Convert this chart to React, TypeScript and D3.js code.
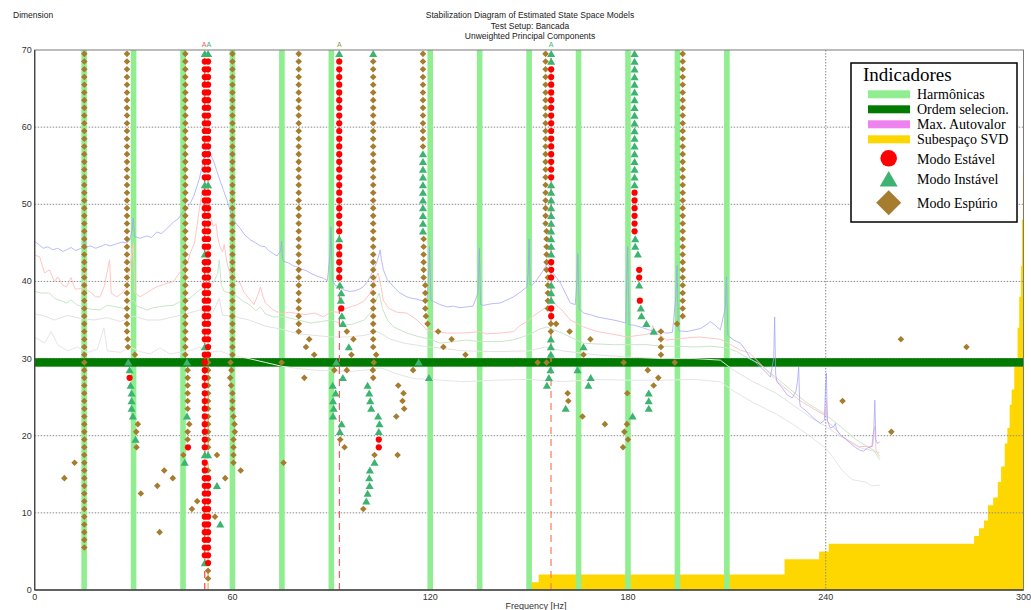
import React from "react";
import * as d3 from "d3";

// ---- axes ----
const FREQ_MAX = 300;
const DIM_MAX = 70;
const xTicks = [0, 60, 120, 180, 240, 300];
const yTicks = [0, 10, 20, 30, 40, 50, 60, 70];
const xGrid = [60, 120, 180, 240];
const yGrid = [10, 20, 30, 40, 50, 60];

// ---- indicators ----
const harmonics = [15, 30, 45, 60, 75, 90, 120, 135, 150, 165, 180, 195, 210];
const selectedOrder = 29.5;

// SVD subspace staircase: [frequency start, dimension]
const svdSteps: [number, number][] = [
  [150, 1], [152.9, 2], [227.5, 4], [238, 5], [240.9, 6], [285, 7], [286.5, 8],
  [288, 9], [289.2, 11], [290.8, 12], [292.2, 14], [293.2, 16], [294.3, 19],
  [295.1, 21], [295.8, 24], [296.4, 26], [297.2, 29], [298.2, 34], [298.7, 38],
  [299.2, 42], [299.5, 48], [299.8, 54], [300, 54],
];

// ---- principal component spectra: [Hz, level] ----
const spectrumBlue: [number, number][] = [
  [0, 45.2], [1.2, 44.8], [2.6, 44.3], [4, 44.5], [5.5, 44.1], [7, 44.3], [8.5, 43.9], [9.7, 44.1],
  [11, 44.4], [12.5, 44.0], [14, 44.3], [14.8, 44.5], [15.1, 46.5], [15.4, 44.4], [17, 44.6],
  [18.5, 44.3], [19.8, 44.5], [21.5, 44.8], [23, 44.6], [24.9, 44.9], [26.5, 45.1], [28, 45.0],
  [28.9, 45.4], [29.6, 46.8], [29.9, 48.2], [30.3, 45.8], [32, 45.6], [34, 45.9], [35.5, 45.7],
  [37, 46.4], [38.5, 46.2], [40, 46.8], [42.1, 47.7], [43.5, 48.1], [44.6, 48.8], [46, 49.4],
  [47.1, 50.1], [48.2, 51.0], [49.2, 52.3], [50, 53.4], [50.7, 54.7], [51.2, 55.8], [51.7, 56.6],
  [52.2, 57.5], [52.7, 57.2], [53.3, 56.5], [54.2, 55.7], [55.2, 54.4], [56.2, 53.1], [57.2, 51.9],
  [58.3, 50.6], [59.3, 49.2], [60.3, 48.0], [61.3, 47.4], [62.3, 46.9], [63.8, 46.0], [65.4, 45.4],
  [67, 45.0], [68.5, 44.6], [69.9, 44.5], [71, 44.0], [72.4, 43.6], [73.5, 43.3], [74.6, 44.0],
  [74.9, 45.2], [75.2, 43.0], [75.5, 42.6], [77, 42.4], [78.5, 42.0], [79.5, 41.9], [81, 41.6],
  [82.3, 41.4], [83.6, 41.1], [85, 40.8], [86.3, 40.6], [87.6, 40.4], [88.8, 40.1], [89.6, 43.5],
  [89.9, 47.1], [90.3, 40.2], [91.2, 39.5], [92.5, 39.3], [93.8, 38.9], [95.7, 38.7], [97.3, 38.8],
  [98.5, 39.0], [99.7, 39.3], [101, 40.0], [102, 40.8], [102.8, 41.5], [103.8, 42.5], [104.5, 43.5],
  [104.8, 44.1], [105.2, 42.8], [105.8, 41.5], [107, 40.2], [108.9, 39.3], [110.5, 38.6],
  [112.9, 38.0], [114.5, 37.8], [116, 37.7], [117.5, 37.5], [119, 37.6], [119.5, 40.5],
  [119.8, 44.5], [120.2, 37.6], [121, 37.4], [123, 37.0], [125.1, 36.7], [127, 36.8], [129, 36.6],
  [131.1, 36.7], [133, 36.8], [134.5, 38.5], [134.9, 44.3], [135.3, 37.0], [136.2, 36.9],
  [138.5, 37.1], [141.2, 37.2], [143.3, 37.6], [145.3, 38.0], [147.3, 38.6], [149.3, 39.3],
  [149.7, 41], [150.0, 45.5], [150.3, 39.6], [150.9, 39.5], [152.5, 40.3], [154.4, 41.5],
  [155.4, 42.3], [156.4, 41.8], [157.4, 41.0], [159.5, 39.8], [161, 38.5], [162.5, 37.2],
  [164, 37.0], [164.5, 40], [164.8, 43.6], [165.2, 36.5], [166.5, 35.9], [168.5, 35.7],
  [170.6, 35.4], [173, 35.2], [175.6, 35.0], [177.7, 34.8], [179.3, 34.6], [179.6, 40.0],
  [179.9, 44.5], [180.3, 34.4], [182, 34.3], [183.7, 34.1], [185.8, 33.8], [187.8, 33.5],
  [189.8, 33.4], [191.8, 33.3], [193.5, 33.4], [194.5, 38.0], [194.9, 42.1], [195.3, 33.6],
  [197.9, 33.5], [200, 33.7], [202, 33.9], [203.5, 34.3], [205, 34.8], [206.5, 34.3], [208, 33.7],
  [209.5, 36.5], [209.9, 40.6], [210.3, 33.0], [212.1, 32.4], [214.1, 32.0], [215.5, 31.2],
  [217.2, 30.0], [218.7, 29.5], [220.2, 28.9], [221.7, 28.3], [223.2, 27.6], [224.2, 30.0],
  [224.5, 35.4], [224.8, 28.0], [225.2, 27.0], [226.8, 26.2], [228.3, 25.3], [229.8, 24.9],
  [231.0, 25.8], [231.4, 27.0], [231.8, 28.9], [232.1, 24.3], [232.3, 23.8], [233.8, 23.3],
  [235.3, 22.7], [236.8, 22.1], [238.4, 21.6], [239.6, 22], [239.9, 26.0], [240.2, 28.1],
  [240.5, 22.0], [241.4, 21.0], [242.5, 21.2], [242.9, 21.6], [243.3, 20.8], [244.4, 20.1],
  [246, 19.6], [247.5, 19.0], [249, 18.5], [250.5, 18.1], [251.5, 18.0], [252.6, 18.4], [254, 18.6],
  [254.6, 21.0], [254.9, 24.6], [255.2, 19.5], [255.7, 19.0], [256.4, 19.2],
];

const spectrumRed: [number, number][] = [
  [0, 43.4], [1.5, 43.2], [3, 41.1], [4.5, 41.5], [6, 40.0], [7, 40.6], [8.5, 39.5], [9.7, 39.3],
  [11, 40.5], [12.3, 39.0], [14.8, 39.1], [15.1, 42.0], [15.5, 39.0], [17, 38.6], [18.5, 38.0],
  [19.8, 38.0], [21.2, 39.5], [22.7, 42.8], [23.2, 38.5], [24.9, 38.0], [26.5, 38.5], [28, 39.3],
  [29.9, 44.9], [30.4, 38.5], [32, 38.0], [33.5, 38.4], [35, 38.8], [37, 39.3], [39, 39.6],
  [42.1, 40.0], [44.6, 41.5], [46.5, 42.5], [47.1, 43.6], [48.5, 45.0], [49.2, 47.1], [50, 49.5],
  [50.7, 51.4], [51.3, 52.3], [52.0, 51.0], [52.6, 49.5], [53.2, 48.5], [54.2, 47.1], [55.0, 47.5],
  [55.5, 45.8], [56.2, 44.5], [57, 43.8], [57.5, 44.8], [58.3, 42.5], [59.2, 41.1], [60.3, 40.5],
  [61.5, 40.0], [62.3, 39.8], [63.5, 38.6], [65.4, 37.6], [66.5, 37.0], [67.5, 38.0], [68.5, 39.3],
  [69.3, 38.0], [70, 37.2], [72.4, 36.3], [75, 35.8], [77, 36.0], [79, 35.9], [82, 35.7],
  [85, 35.9], [87.6, 35.4], [89.9, 36.1], [92, 36.0], [95.7, 36.7], [98, 37.0], [100, 37.5],
  [101.5, 38.3], [102.8, 39.5], [103.5, 40.5], [104.2, 41.1], [105, 39.5], [105.8, 37.5],
  [107.5, 36.5], [109, 36.2], [110, 36.0], [112.9, 35.9], [116, 35.0], [119, 33.7], [121, 33.5],
  [123, 33.4], [125.1, 33.3], [129, 33.3], [133, 33.4], [135, 33.5], [137, 33.2], [141.2, 33.3],
  [145.3, 33.5], [147, 34.2], [150, 35.0], [151.5, 35.6], [154, 36.3], [156, 37.0], [157.4, 37.4],
  [158.5, 36.8], [160, 36.3], [162.5, 35.0], [166.5, 34.1], [170.6, 33.5], [175, 33.2],
  [179.7, 32.8], [183, 33.0], [185, 33.1], [187, 33.3], [187.5, 34.3], [188, 33.5], [191.8, 32.4],
  [196, 32.6], [201.5, 32.8], [206, 32.6], [208, 32.5], [212, 31.6], [214.1, 31.1], [217, 30.7],
  [222, 28.5], [227, 26.4], [232, 24.6], [237, 23.3], [240, 22.6], [240.2, 24.6], [240.5, 21.8],
  [242, 21.3], [245, 19.9], [250, 18.6], [254.2, 18.6], [254.9, 21.2], [255.3, 18.0], [256.4, 17.3],
];

const spectrumGreen: [number, number][] = [
  [0, 38.7], [2, 38.5], [4.5, 38.5], [6, 37.8], [8, 37.5], [9.7, 37.2], [11, 37.6], [13, 36.9],
  [14.8, 36.7], [17, 36.4], [19.8, 36.3], [22, 36.9], [24.9, 36.7], [27, 36.5], [29.9, 37.6],
  [31, 36.8], [34, 36.3], [36, 36.6], [39, 36.8], [42, 36.9], [45, 37.6], [47, 37.8], [49.5, 38.7],
  [52, 39.5], [54, 39.7], [55.5, 41.0], [56, 42.8], [56.6, 39.5], [57.5, 38.7], [59, 38.5],
  [61, 38.2], [63, 37.5], [65.4, 36.9], [67, 36.2], [68.5, 36.7], [70, 35.8], [72.4, 35.4],
  [76, 35.4], [80, 35.0], [83.6, 34.6], [87, 34.8], [90, 35.0], [93, 34.5], [96, 34.4], [100, 35.0],
  [102, 36.0], [103.5, 37.5], [104.5, 38.5], [105.5, 36.5], [107, 35.0], [108.9, 34.1],
  [112.9, 33.3], [116, 32.9], [120, 32.5], [123, 32.0], [127, 32.2], [131, 32.4], [135, 32.2],
  [141.2, 32.2], [145, 32.4], [148, 32.8], [150.9, 33.3], [153, 33.8], [155.4, 34.1], [157, 33.8],
  [160, 33.3], [163, 32.7], [166.5, 32.0], [170, 31.9], [175.6, 31.8], [180, 31.8], [185.8, 31.8],
  [190, 31.6], [195, 31.6], [200, 31.5], [205, 31.6], [210, 31.4], [213, 30.9], [215, 30.4],
  [219.5, 29.4], [224.5, 27.7], [229.5, 25.9], [234.5, 24.2], [239.5, 22.9], [240, 23.6],
  [240.3, 22.6], [244.5, 21.2], [249.5, 19.4], [254.6, 18.1], [256.4, 16.9],
];

const spectrumGray1: [number, number][] = [
  [0, 35.8], [3, 35.5], [6, 35.0], [10, 35.6], [14, 35.2], [18, 35.0], [22, 35.3], [26, 34.8],
  [30, 35.5], [34, 35.0], [38, 35.0], [42, 35.4], [46, 35.8], [50, 36.3], [54, 36.0], [56, 37.8],
  [57, 35.6], [60, 35.5], [65, 35.0], [70, 34.2], [75, 33.8], [80, 33.2], [85, 33.0], [90, 32.8],
  [95, 32.8], [100, 33.0], [104, 33.5], [108, 32.5], [112, 32.0], [118, 31.6], [124, 31.3],
  [130, 31.0], [140, 30.9], [150, 31.0], [155, 31.5], [160, 31.0], [170, 30.5], [180, 30.2],
  [190, 30.0], [200, 30.0], [208, 29.8], [212, 28.5], [218, 27.0], [225, 25.5], [230, 24.0],
  [235, 22.5], [240, 21.2], [245, 19.8], [250, 18.5], [256.4, 17.8],
];

const spectrumGray2: [number, number][] = [
  [0, 32.8], [3, 32.0], [5, 33.5], [7, 31.8], [10, 31.0], [13, 31.5], [16, 30.8], [19, 31.2],
  [21, 34.0], [22, 31.0], [26, 30.8], [29, 31.5], [32, 30.9], [35, 30.6], [38, 31.4], [41, 30.6],
  [44, 30.8], [47, 31.0], [50, 31.5], [53, 30.8], [56, 31.0], [60, 30.4], [65, 30.0], [70, 29.5],
  [75, 29.0], [80, 28.7], [85, 28.5], [90, 28.4], [95, 28.3], [100, 28.5], [105, 28.8], [110, 28.0],
  [115, 27.4], [120, 27.3], [130, 27.0], [140, 27.2], [150, 27.3], [160, 27.0], [170, 27.3],
  [180, 27.2], [190, 27.2], [200, 27.3], [208, 27.0], [212, 25.8], [218, 24.3], [225, 22.8],
  [230, 21.5], [235, 20.0], [240, 18.4], [242, 17.3], [245, 15.5], [248, 14.3], [252, 14.0],
  [254, 13.5], [256.4, 13.6],
];

// ---- estimated modes ----
// runs: one mode per model order at frequency f, from dimension a to b
const stableRuns: [number, number, number][] = [
  [51.6, 53.5, 68.5], [51.6, 44.5, 51.5], [51.6, 32.5, 42.5], [51.6, 18.5, 30.5], [51.6, 4.5, 16.5],
  [52.6, 53.5, 68.5], [52.6, 30.5, 51.5], [52.6, 3.5, 14.5],
  [92.4, 46.5, 68.5], [92.4, 40.5, 44.5],
  [156.7, 53.5, 67.5], [156.7, 40.5, 42.5],
  [182.0, 46.5, 51.5],
];
const stablePoints: [number, number][] = [
  [28.8, 27.5], [46.5, 18.5], [93.0, 36.5], [104.4, 19.5], [104.4, 18.5],
  [183.4, 41.5], [183.4, 40.5], [183.6, 37.5], [156.7, 36.5], [156.7, 35.5],
];

const unstableRuns: [number, number, number][] = [
  [182.0, 52.5, 69.5], [117.8, 46.5, 56.5], [156.7, 43.5, 52.5], [156.7, 68.5, 69.5],
];
const unstablePoints: [number, number][] = [
  [51.6, 69.5], [52.6, 69.5], [51.6, 52.5], [52.6, 52.5], [51.6, 43.5], [51.6, 31.5],
  [51.6, 17.5], [52.6, 17.5], [51.6, 3.5], [55.3, 13.5], [56.3, 8.5],
  [28.4, 29.5], [28.8, 28.5], [29.1, 26.5], [29.4, 25.5], [29.4, 24.5], [29.4, 23.5],
  [29.8, 22.5], [30.6, 19.5],
  [46.2, 29.5], [46.2, 22.5], [45.5, 16.5],
  [92.4, 69.5], [92.4, 45.5], [92.6, 39.5], [93.0, 38.5], [92.9, 37.5], [93.2, 35.5],
  [93.5, 34.5], [95.3, 31.5], [91.5, 29.5], [93.5, 27.5], [90.4, 26.5], [91.3, 25.5],
  [90.5, 24.5], [90.7, 23.5], [90.5, 22.5], [93.1, 21.5], [92.6, 20.5],
  [102.7, 69.5], [101.0, 26.5], [101.5, 25.5], [101.8, 24.5], [102.1, 23.5], [104.2, 22.5],
  [104.6, 21.5], [104.4, 20.5], [103.1, 16.5], [101.7, 15.5], [101.5, 14.5], [101.6, 13.5],
  [101.0, 12.5], [100.6, 11.5],
  [116.5, 29.5], [119.6, 27.5],
  [156.6, 32.5], [156.6, 31.5], [156.6, 30.5], [156.5, 28.5], [156.0, 27.5], [155.4, 26.5],
  [156.7, 39.5], [156.7, 38.5], [156.7, 37.5],
  [166.5, 31.5], [164.7, 28.5], [168.7, 27.5], [168.0, 26.5], [161.1, 23.5],
  [182.2, 45.5], [182.2, 44.5], [183.0, 43.5], [183.4, 39.5], [183.9, 36.5], [184.1, 35.5],
  [185.6, 34.5], [187.8, 33.5], [186.3, 25.5], [186.3, 24.5], [186.3, 23.5], [181.4, 22.5],
];

const spuriousRuns: [number, number, number][] = [
  [15.05, 5.5, 69.5], [28.0, 33.5, 69.5], [45.7, 30.5, 69.5], [46.4, 23.5, 28.5],
  [60.0, 30.5, 69.5], [60.0, 23.5, 25.5], [60.3, 16.5, 19.5], [80.1, 33.5, 69.5],
  [102.7, 31.5, 68.5], [117.8, 57.5, 69.5], [118.0, 40.5, 45.5], [118.5, 36.5, 39.5],
  [155.0, 47.5, 69.5], [155.3, 41.5, 46.5], [155.7, 36.5, 40.5], [196.6, 35.5, 69.5],
  [52.6, 18.5, 29.5], [190.0, 30.5, 33.5],
];
const spuriousPoints: [number, number][] = [
  [28.2, 32.5], [28.3, 31.5], [30.4, 30.5], [31.3, 21.5], [30.8, 20.5], [30.9, 18.5], [32.2, 12.5],
  [46.9, 21.5], [46.4, 20.5], [46.4, 19.5], [45.1, 17.5],
  [9.0, 14.5], [12.1, 16.5], [37.2, 13.5], [37.9, 7.5], [39.3, 15.5], [41.9, 14.5], [47.7, 10.5],
  [49.3, 11.5], [54.7, 9.5], [55.3, 17.5], [57.8, 14.5], [62.5, 15.5],
  [52.6, 15.5], [52.6, 2.5], [52.6, 1.5],
  [59.4, 29.5], [59.7, 28.5], [59.3, 27.5], [59.6, 26.5], [60.3, 22.5], [60.6, 21.5], [60.7, 20.5],
  [74.9, 29.5], [75.5, 16.5],
  [83.3, 32.5], [82.3, 31.5], [84.8, 30.5], [81.8, 27.5],
  [94.7, 33.5], [96.7, 32.5], [96.1, 30.5], [94.7, 28.5], [90.9, 28.5], [92.7, 19.5], [94.0, 18.5],
  [103.6, 30.5], [102.9, 29.5], [102.6, 28.5], [102.7, 27.5], [103.1, 17.5], [99.7, 10.5],
  [110.3, 26.5], [111.9, 25.5], [111.6, 24.5], [112.1, 23.5], [109.7, 22.5], [110.1, 17.5], [114.8, 28.5],
  [118.7, 35.5], [119.2, 34.5], [122.4, 33.5], [126.5, 32.5], [124.0, 31.5], [130.7, 30.5],
  [156.6, 34.5], [158.2, 34.5], [156.6, 33.5], [162.3, 33.5], [152.6, 29.5], [155.3, 29.5],
  [168.6, 32.5], [166.5, 30.5], [161.7, 25.5], [161.9, 24.5], [166.2, 22.5], [173.0, 21.5],
  [178.7, 29.5], [179.8, 25.5], [179.7, 21.5], [178.9, 20.5], [180.0, 19.5], [178.5, 18.5],
  [186.0, 28.5], [189.2, 27.5], [187.8, 26.5],
  [194.9, 34.5], [194.2, 29.5],
  [262.8, 32.5], [282.7, 31.5], [245.1, 24.5], [259.9, 20.5],
];

// mean frequency of the stable mode families (dashed lines)
const modeLines: [number, string][] = [
  [51.6, "#ff3b3b"], [52.6, "#ffa54a"], [92.45, "#ff5a5a"], [156.65, "#ff7a55"],
];
// overflow flags above the top order: [Hz, colour]
const topFlags: [number, string][] = [
  [51.4, "#f06060"], [52.8, "#3cb371"], [92.4, "#8aa040"], [156.7, "#3cb371"],
];

const legendItems = ["Harmônicas", "Ordem selecion.", "Max. Autovalor", "Subespaço SVD"];
const legendColors = ["#90ee90", "#007a00", "#ee82ee", "#ffd700"];
const legendModes = ["Modo Estável", "Modo Instável", "Modo Espúrio"];

const COL_STABLE = "#ff0000";
const COL_UNSTABLE = "#3cb371";
const COL_SPURIOUS = "#a67c2e";

function expand(runs: [number, number, number][]): [number, number][] {
  const out: [number, number][] = [];
  for (const [f, a, b] of runs) for (let d = a; d <= b + 1e-6; d += 1) out.push([f, d]);
  return out;
}

export default function App() {
  const L = 34.7, R = 1023.5, T = 50, B = 590;
  const x = d3.scaleLinear().domain([0, FREQ_MAX]).range([L, R]);
  const y = d3.scaleLinear().domain([0, DIM_MAX]).range([B, T]);

  const line = d3.line<[number, number]>().x((d) => x(d[0])).y((d) => y(d[1]));
  const svdArea = d3
    .area<[number, number]>()
    .x((d) => x(d[0]))
    .y0(y(0))
    .y1((d) => y(d[1]))
    .curve(d3.curveStepAfter);

  const stable = [...expand(stableRuns), ...stablePoints];
  const unstable = [...expand(unstableRuns), ...unstablePoints];
  const spurious = [...expand(spuriousRuns), ...spuriousPoints];

  const tri = (cx: number, cy: number, s: number) =>
    `M${cx},${cy - s * 0.55}L${cx + s * 0.58},${cy + s * 0.45}L${cx - s * 0.58},${cy + s * 0.45}Z`;
  const dia = (cx: number, cy: number, r: number) =>
    `M${cx},${cy - r}L${cx + r},${cy}L${cx},${cy + r}L${cx - r},${cy}Z`;

  const sans = "'Liberation Sans', Arial, sans-serif";
  const serif = "'Liberation Serif', 'Times New Roman', serif";

  return (
    <svg width={1031} height={610} style={{ position: "absolute", left: 0, top: 0 }}>
      <rect x={0} y={0} width={1031} height={610} fill="#ffffff" />

      {/* titles */}
      <text x={13} y={18} fontFamily={sans} fontSize={8.5} fill="#222">Dimension</text>
      <g fontFamily={sans} fontSize={8.5} fill="#222" textAnchor="middle">
        <text x={530} y={18}>Stabilization Diagram of Estimated State Space Models</text>
        <text x={530} y={29}>Test Setup: Bancada</text>
        <text x={530} y={39}>Unweighted Principal Components</text>
      </g>

      {/* SVD subspace */}
      <path d={svdArea(svdSteps) || ""} fill="#ffd700" />

      {/* grid */}
      <g stroke="#8a8a8a" strokeWidth={1} strokeDasharray="1.5,1.5">
        {yGrid.map((v) => (
          <line key={"gy" + v} x1={L} x2={R} y1={y(v)} y2={y(v)} />
        ))}
        {xGrid.map((v) => (
          <line key={"gx" + v} x1={x(v)} x2={x(v)} y1={T} y2={B} />
        ))}
      </g>

      {/* harmonics */}
      {harmonics.map((h) => (
        <rect key={"h" + h} x={x(h) - 2.8} y={T} width={5.6} height={B - T} fill="#90ee90" />
      ))}

      {/* selected order */}
      <rect x={L} y={y(selectedOrder + 0.55)} width={R - L} height={y(selectedOrder - 0.55) - y(selectedOrder + 0.55)} fill="#007a00" />

      {/* spectra */}
      <g fill="none" strokeWidth={1}>
        <path d={line(spectrumGray2) || ""} stroke="#e6e6e6" />
        <path d={line(spectrumGray1) || ""} stroke="#e2e2e2" />
        <path d={line(spectrumGreen) || ""} stroke="#c9e6c9" />
        <path d={line(spectrumRed) || ""} stroke="#ffc6c6" />
        <path d={line(spectrumBlue) || ""} stroke="#9c9cff" strokeOpacity={0.7} />
      </g>

      {/* stable mode family lines */}
      {modeLines.map(([f, c]) => (
        <line key={"ml" + f} x1={x(f)} x2={x(f)} y1={y(0)} y2={y(69)} stroke={c} strokeWidth={1.2} strokeDasharray="7,5" />
      ))}

      {/* modes */}
      <g fill={COL_SPURIOUS}>
        {spurious.map(([f, d], i) => (
          <path key={"s" + i} d={dia(x(f), y(d), 3.3)} />
        ))}
      </g>
      <g fill={COL_UNSTABLE}>
        {unstable.map(([f, d], i) => (
          <path key={"u" + i} d={tri(x(f), y(d), 7)} />
        ))}
      </g>
      <g fill={COL_STABLE}>
        {stable.map(([f, d], i) => (
          <circle key={"c" + i} cx={x(f)} cy={y(d)} r={3.1} />
        ))}
      </g>

      {topFlags.map(([f, c]) => (
        <text key={"tf" + f} x={x(f)} y={47} fontFamily={sans} fontSize={7} fill={c} textAnchor="middle">A</text>
      ))}

      {/* frame and axes */}
      <rect x={L} y={T} width={R - L} height={B - T} fill="none" stroke="#7a7a7a" strokeWidth={1} />
      <line x1={L} x2={L} y1={T} y2={B} stroke="#444" strokeWidth={1.3} />
      <line x1={L} x2={R} y1={B} y2={B} stroke="#444" strokeWidth={1.3} />

      <g fontFamily={sans} fontSize={9} fill="#333" textAnchor="end">
        {yTicks.map((v) => (
          <text key={"yt" + v} x={L - 3} y={y(v) + 3}>{v}</text>
        ))}
      </g>
      <g fontFamily={sans} fontSize={9} fill="#333" textAnchor="middle">
        {xTicks.map((v) => (
          <text key={"xt" + v} x={x(v)} y={600}>{v}</text>
        ))}
        <text x={536} y={609}>Frequency [Hz]</text>
      </g>

      {/* legend */}
      <g>
        <rect x={851} y={63} width={166} height={159} fill="#ffffff" stroke="#000" strokeWidth={1.5} />
        <text x={863} y={81} fontFamily={serif} fontSize={19} fill="#000">Indicadores</text>
        {legendItems.map((t, i) => (
          <g key={"li" + i}>
            <rect x={868} y={90.3 + i * 15} width={42} height={8} fill={legendColors[i]} />
            <text x={917} y={98.5 + i * 15} fontFamily={serif} fontSize={14} fill="#000">{t}</text>
          </g>
        ))}
        <circle cx={888.7} cy={158.3} r={8.3} fill={COL_STABLE} />
        <path d={tri(888.7, 179.5, 15.5)} fill={COL_UNSTABLE} />
        <path d={dia(888.7, 202.7, 12.5)} fill={COL_SPURIOUS} />
        {legendModes.map((t, i) => (
          <text key={"lm" + i} x={917} y={[163.5, 183.5, 207.5][i]} fontFamily={serif} fontSize={14} fill="#000">{t}</text>
        ))}
      </g>
    </svg>
  );
}
